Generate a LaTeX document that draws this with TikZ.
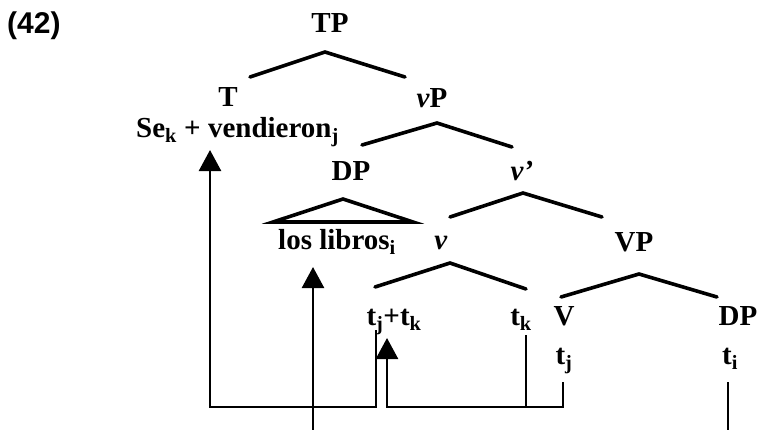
\documentclass[tikz,border=0pt]{standalone}
\usepackage{fontspec}
\setmainfont{Liberation Serif}
\setsansfont{Liberation Sans}
\usetikzlibrary{arrows.meta,calc}
\tikzset{
  lbl/.style={font=\fontsize{29}{32}\selectfont\bfseries,inner sep=0pt,anchor=base},
  branch/.style={line width=3.6pt,line cap=round,line join=miter},
  move/.style={line width=2.5pt},
  mvarrow/.style={move,-{Triangle[width=22pt,length=21pt]}},
}
\newcommand\tsub[1]{\textsubscript{#1}}

\begin{document}
\begin{tikzpicture}[x=1pt,y=-1pt]
  \useasboundingbox (0,0) rectangle (758,429);
  % labels, row by row
  \node[lbl,anchor=base west,font=\fontsize{30}{32}\selectfont\sffamily\bfseries] (ex) at (7,33) {(42)};
  \node[lbl] (tp) at (330,32) {TP};
  \node[lbl] (t) at (228,106) {T};
  \node[lbl] (vp) at (432,107) {\textit{v}P};
  \node[lbl,anchor=base west] (se) at (136,137) {Se\tsub{k} + vendieron\tsub{j}};
  \node[lbl] (dp1) at (351,180) {DP};
  \node[lbl] (vbar) at (522,180) {\textit{v’}};
  \node[lbl] (libros) at (337,249) {los libros\tsub{i}};
  \node[lbl] (v) at (441,249) {\textit{v}};
  \node[lbl] (vpp) at (634,251) {VP};
  \node[lbl] (tjtk) at (394,325) {t\tsub{j}+t\tsub{k}};
  \node[lbl] (tk) at (521,325) {t\tsub{k}};
  \node[lbl] (verb) at (564,325) {V};
  \node[lbl] (dp2) at (738,325) {DP};
  \node[lbl] (tj) at (564,364) {t\tsub{j}};
  \node[lbl] (ti) at (730,364) {t\tsub{i}};

  % branching points
  \coordinate (tp-a) at (325,52);  \coordinate (tp-l) at (250,77);  \coordinate (tp-r) at (405,77);
  \coordinate (vp-a) at (437,123); \coordinate (vp-l) at (362,145); \coordinate (vp-r) at (512,147);
  \coordinate (dp-a) at (343,199); \coordinate (dp-l) at (273,222); \coordinate (dp-r) at (413,222);
  \coordinate (vb-a) at (523,193); \coordinate (vb-l) at (450,217); \coordinate (vb-r) at (602,217);
  \coordinate (v-a) at (450,263);  \coordinate (v-l) at (375,287);  \coordinate (v-r) at (526,289);
  \coordinate (vv-a) at (639,274); \coordinate (vv-l) at (561,297); \coordinate (vv-r) at (717,297);

  \draw[branch] (tp-l) -- (tp-a) -- (tp-r);
  \draw[branch] (vp-l) -- (vp-a) -- (vp-r);
  \draw[branch] (dp-l) -- (dp-a) -- (dp-r) -- cycle;
  \draw[branch] (vb-l) -- (vb-a) -- (vb-r);
  \draw[branch] (v-l) -- (v-a) -- (v-r);
  \draw[branch] (vv-l) -- (vv-a) -- (vv-r);

  % movement paths
  \coordinate (tjtk-f) at (376,330);
  \coordinate (se-to) at (210,150);
  \coordinate (tj-f) at (563,382);
  \coordinate (tjtk-to) at (387,338);
  \coordinate (tk-f) at (526,335);
  \coordinate (ti-f) at (728,382);
  \coordinate (libros-to) at (313,267);
  \draw[mvarrow] (tjtk-f) -- (tjtk-f |- 0,407) -| (se-to);
  \draw[mvarrow] (tj-f) -- (tj-f |- 0,407) -| (tjtk-to);
  \draw[move] (tk-f) -- (tk-f |- 0,407);
  \draw[mvarrow] (ti-f) -- (ti-f |- 0,431) -| (libros-to);
\end{tikzpicture}
\end{document}
